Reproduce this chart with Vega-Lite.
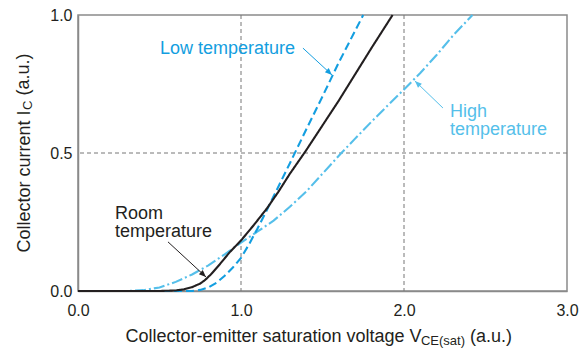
{
  "$schema": "https://vega.github.io/schema/vega-lite/v6.json",
  "width": 489,
  "height": 276,
  "autosize": {"type": "none"},
  "padding": {"left": 78, "top": 15, "right": 21, "bottom": 58},
  "config": {
    "font": "Liberation Sans",
    "view": {"stroke": "#8a8a8a", "strokeWidth": 1.5},
    "axis": {
      "domainColor": "#8a8a8a", "domainWidth": 1.5, "ticks": false, "tickSize": 0, "grid": false, "labelFlush": false,
      "labelFont": "Liberation Sans", "labelFontSize": 16, "labelColor": "#231f20",
      "titleFont": "Liberation Sans", "titleFontSize": 18, "titleFontWeight": "normal", "titleColor": "#231f20"
    }
  },
  "datasets": {
    "curves": [
      {"series": "High temperature", "x": 0, "y": 0},
      {"series": "High temperature", "x": 0.3, "y": 0},
      {"series": "High temperature", "x": 0.4, "y": 0.003},
      {"series": "High temperature", "x": 0.5, "y": 0.013},
      {"series": "High temperature", "x": 0.6, "y": 0.033},
      {"series": "High temperature", "x": 0.7, "y": 0.06},
      {"series": "High temperature", "x": 0.8, "y": 0.093},
      {"series": "High temperature", "x": 0.9, "y": 0.133},
      {"series": "High temperature", "x": 1.0, "y": 0.175},
      {"series": "High temperature", "x": 1.1, "y": 0.215},
      {"series": "High temperature", "x": 1.2, "y": 0.255},
      {"series": "High temperature", "x": 1.3, "y": 0.305},
      {"series": "High temperature", "x": 1.4, "y": 0.36},
      {"series": "High temperature", "x": 1.5, "y": 0.425},
      {"series": "High temperature", "x": 1.6, "y": 0.49},
      {"series": "High temperature", "x": 1.7, "y": 0.552},
      {"series": "High temperature", "x": 1.8, "y": 0.613},
      {"series": "High temperature", "x": 1.9, "y": 0.672},
      {"series": "High temperature", "x": 2.0, "y": 0.73},
      {"series": "High temperature", "x": 2.1, "y": 0.79},
      {"series": "High temperature", "x": 2.2, "y": 0.855},
      {"series": "High temperature", "x": 2.3, "y": 0.925},
      {"series": "High temperature", "x": 2.42, "y": 1.0},
      {"series": "Low temperature", "x": 0, "y": 0},
      {"series": "Low temperature", "x": 0.7, "y": 0},
      {"series": "Low temperature", "x": 0.75, "y": 0.004},
      {"series": "Low temperature", "x": 0.8, "y": 0.013},
      {"series": "Low temperature", "x": 0.85, "y": 0.03},
      {"series": "Low temperature", "x": 0.9, "y": 0.055},
      {"series": "Low temperature", "x": 0.95, "y": 0.085},
      {"series": "Low temperature", "x": 1.0, "y": 0.12},
      {"series": "Low temperature", "x": 1.05, "y": 0.17},
      {"series": "Low temperature", "x": 1.1, "y": 0.225},
      {"series": "Low temperature", "x": 1.15, "y": 0.283},
      {"series": "Low temperature", "x": 1.2, "y": 0.343},
      {"series": "Low temperature", "x": 1.25, "y": 0.403},
      {"series": "Low temperature", "x": 1.3, "y": 0.463},
      {"series": "Low temperature", "x": 1.4, "y": 0.585},
      {"series": "Low temperature", "x": 1.5, "y": 0.705},
      {"series": "Low temperature", "x": 1.6, "y": 0.828},
      {"series": "Low temperature", "x": 1.75, "y": 1.0},
      {"series": "Room temperature", "x": 0, "y": 0},
      {"series": "Room temperature", "x": 0.5, "y": 0},
      {"series": "Room temperature", "x": 0.6, "y": 0.002},
      {"series": "Room temperature", "x": 0.65, "y": 0.006},
      {"series": "Room temperature", "x": 0.7, "y": 0.014},
      {"series": "Room temperature", "x": 0.75, "y": 0.027},
      {"series": "Room temperature", "x": 0.78, "y": 0.04},
      {"series": "Room temperature", "x": 0.82, "y": 0.063},
      {"series": "Room temperature", "x": 0.87, "y": 0.097},
      {"series": "Room temperature", "x": 0.93, "y": 0.14},
      {"series": "Room temperature", "x": 1.0, "y": 0.183},
      {"series": "Room temperature", "x": 1.08, "y": 0.24},
      {"series": "Room temperature", "x": 1.16, "y": 0.3},
      {"series": "Room temperature", "x": 1.23, "y": 0.36},
      {"series": "Room temperature", "x": 1.3, "y": 0.425},
      {"series": "Room temperature", "x": 1.4, "y": 0.51},
      {"series": "Room temperature", "x": 1.5, "y": 0.6},
      {"series": "Room temperature", "x": 1.6, "y": 0.69},
      {"series": "Room temperature", "x": 1.7, "y": 0.785},
      {"series": "Room temperature", "x": 1.8, "y": 0.88},
      {"series": "Room temperature", "x": 1.93, "y": 1.0}
    ],
    "gridx": [{"x": 1}, {"x": 2}],
    "gridy": [{"y": 0.5}],
    "labels": [
      {"series": "Low temperature", "x": 0.503, "y": 0.859, "text": "Low temperature"},
      {"series": "High temperature", "x": 2.282, "y": 0.629, "text": "High\ntemperature"},
      {"series": "Room temperature", "x": 0.227, "y": 0.261, "text": "Room\ntemperature"}
    ],
    "arrows": [
      {"series": "Low temperature", "x": 1.38, "y": 0.88, "x2": 1.558, "y2": 0.783},
      {"series": "High temperature", "x": 2.239, "y": 0.663, "x2": 2.067, "y2": 0.761},
      {"series": "Room temperature", "x": 0.552, "y": 0.178, "x2": 0.785, "y2": 0.051}
    ],
    "titleparts": [
      {"part": "xsub", "text": "CE(sat)", "x": 2.104, "y": -0.196},
      {"part": "xrest", "text": "(a.u.)", "x": 2.405, "y": -0.185},
      {"part": "ysub", "text": "C", "x": -0.282, "y": 0.656},
      {"part": "yrest", "text": "(a.u.)", "x": -0.301, "y": 0.708}
    ]
  },
  "layer": [
    {
      "data": {"name": "gridx"},
      "mark": {"type": "rule", "color": "#777777", "strokeWidth": 1, "strokeDash": [4, 3]},
      "encoding": {"x": {"field": "x", "type": "quantitative",
          "scale": {"domain": [0, 3], "nice": false, "zero": false},
          "axis": {"values": [0, 1, 2, 3], "format": ".1f", "labelPadding": 24, "labelBaseline": "alphabetic", "labelAngle": 0, "labelFlush": false,
            "title": "Collector-emitter saturation voltage V", "titleX": 47, "titleY": 50.5, "titleAlign": "left", "titleAnchor": "start", "titleBaseline": "alphabetic"}}}
    },
    {
      "data": {"name": "gridy"},
      "mark": {"type": "rule", "color": "#777777", "strokeWidth": 1, "strokeDash": [4, 3]},
      "encoding": {"y": {"field": "y", "type": "quantitative",
          "scale": {"domain": [0, 1], "nice": false},
          "axis": {"values": [0, 0.5, 1], "format": ".1f", "labelPadding": 6, "labelFlush": false,
            "title": "Collector current I", "titleX": -49, "titleY": 237, "titleAngle": 270, "titleAlign": "left", "titleAnchor": "start", "titleBaseline": "alphabetic"}}}
    },
    {
      "data": {"name": "curves"},
      "mark": {"type": "line", "strokeWidth": 2.1},
      "encoding": {
        "x": {"field": "x", "type": "quantitative", "title": "Collector-emitter saturation voltage V"},
        "y": {"field": "y", "type": "quantitative", "title": "Collector current I"},
        "color": {"field": "series", "type": "nominal", "legend": null,
          "scale": {"domain": ["High temperature", "Low temperature", "Room temperature"], "range": ["#55bfea", "#139ee0", "#231f20"]}},
        "strokeDash": {"field": "series", "type": "nominal", "legend": null,
          "scale": {"domain": ["High temperature", "Low temperature", "Room temperature"], "range": [[11, 3, 2, 3], [8, 4], [1, 0]]}}
      }
    },
    {
      "data": {"name": "arrows"},
      "mark": {"type": "rule", "strokeWidth": 1},
      "encoding": {
        "x": {"field": "x", "type": "quantitative", "title": "Collector-emitter saturation voltage V"},
        "y": {"field": "y", "type": "quantitative", "title": "Collector current I"},
        "x2": {"field": "x2"},
        "y2": {"field": "y2"},
        "color": {"field": "series", "type": "nominal", "legend": null}
      }
    },
    {
      "data": {"name": "arrows"},
      "transform": [{"filter": "datum.series !== 'High temperature'"}],
      "mark": {"type": "point", "shape": "M0,0L-0.4,1L0.4,1Z", "size": 196, "angle": 133, "filled": true, "opacity": 1},
      "encoding": {
        "x": {"field": "x2", "type": "quantitative", "title": "Collector-emitter saturation voltage V"},
        "y": {"field": "y2", "type": "quantitative", "title": "Collector current I"},
        "color": {"field": "series", "type": "nominal", "legend": null}
      }
    },
    {
      "data": {"name": "arrows"},
      "transform": [{"filter": "datum.series === 'High temperature'"}],
      "mark": {"type": "point", "shape": "M0,0L-0.4,1L0.4,1Z", "size": 196, "angle": 314, "filled": true, "opacity": 1},
      "encoding": {
        "x": {"field": "x2", "type": "quantitative", "title": "Collector-emitter saturation voltage V"},
        "y": {"field": "y2", "type": "quantitative", "title": "Collector current I"},
        "color": {"field": "series", "type": "nominal", "legend": null}
      }
    },
    {
      "data": {"name": "labels"},
      "mark": {"type": "text", "align": "left", "baseline": "alphabetic", "fontSize": 18, "lineBreak": "\n", "lineHeight": 18},
      "encoding": {
        "x": {"field": "x", "type": "quantitative", "title": "Collector-emitter saturation voltage V"},
        "y": {"field": "y", "type": "quantitative", "title": "Collector current I"},
        "text": {"field": "text"},
        "color": {"field": "series", "type": "nominal", "legend": null}
      }
    },
    {
      "data": {"name": "titleparts"},
      "transform": [{"filter": "datum.part === 'xsub'"}],
      "mark": {"type": "text", "align": "left", "baseline": "alphabetic", "fontSize": 13, "color": "#231f20"},
      "encoding": {
        "x": {"field": "x", "type": "quantitative", "title": "Collector-emitter saturation voltage V"},
        "y": {"field": "y", "type": "quantitative", "title": "Collector current I"},
        "text": {"field": "text"}
      }
    },
    {
      "data": {"name": "titleparts"},
      "transform": [{"filter": "datum.part === 'xrest'"}],
      "mark": {"type": "text", "align": "left", "baseline": "alphabetic", "fontSize": 18, "color": "#231f20"},
      "encoding": {
        "x": {"field": "x", "type": "quantitative", "title": "Collector-emitter saturation voltage V"},
        "y": {"field": "y", "type": "quantitative", "title": "Collector current I"},
        "text": {"field": "text"}
      }
    },
    {
      "data": {"name": "titleparts"},
      "transform": [{"filter": "datum.part === 'ysub'"}],
      "mark": {"type": "text", "align": "left", "baseline": "alphabetic", "fontSize": 13, "angle": 270, "color": "#231f20"},
      "encoding": {
        "x": {"field": "x", "type": "quantitative", "title": "Collector-emitter saturation voltage V"},
        "y": {"field": "y", "type": "quantitative", "title": "Collector current I"},
        "text": {"field": "text"}
      }
    },
    {
      "data": {"name": "titleparts"},
      "transform": [{"filter": "datum.part === 'yrest'"}],
      "mark": {"type": "text", "align": "left", "baseline": "alphabetic", "fontSize": 18, "angle": 270, "color": "#231f20"},
      "encoding": {
        "x": {"field": "x", "type": "quantitative", "title": "Collector-emitter saturation voltage V"},
        "y": {"field": "y", "type": "quantitative", "title": "Collector current I"},
        "text": {"field": "text"}
      }
    }
  ]
}
